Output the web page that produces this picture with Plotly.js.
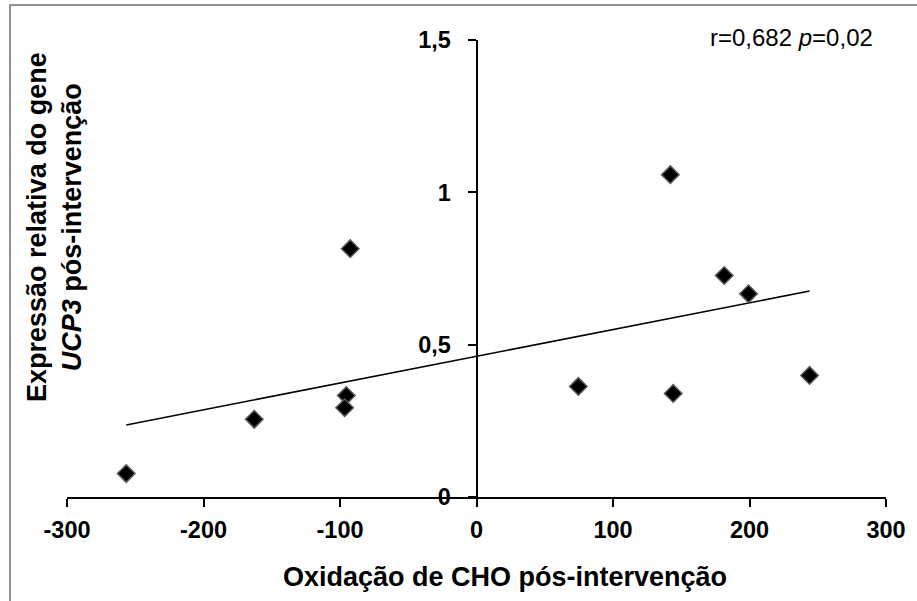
<!DOCTYPE html>
<html>
<head>
<meta charset="utf-8">
<script src="https://cdn.plot.ly/plotly-3.0.1.min.js"></script>
<style>
  html, body { margin: 0; padding: 0; background: #fff; overflow: hidden; }
  #wrap { position: relative; width: 917px; height: 601px; }
  #chart { width: 917px; height: 601px; }
  #frame {
    position: absolute; left: 9px; top: 4px; width: 1000px; height: 700px;
    border-left: 2px solid #8f8f8f; border-top: 2px solid #8f8f8f;
    pointer-events: none; box-sizing: border-box;
  }
</style>
</head>
<body>
<div id="wrap">
  <div id="chart"></div>
  <div id="frame"></div>
</div>
<script>
// CHO oxidation after the intervention vs relative UCP3 expression
const oxidacaoCHO = [-256.6, -162.8, -95.4, -96.6, -92.5, 74.6, 142.0, 144.1, 181.5, 199.3, 244.0];
const expressaoUCP3 = [0.077, 0.255, 0.333, 0.293, 0.815, 0.363, 1.058, 0.340, 0.727, 0.667, 0.399];

const xTickVals = [-300, -200, -100, 0, 100, 200, 300];
const xTickText = ['-300', '-200', '-100', '0', '100', '200', '300'];
const yTickVals = [0, 0.5, 1, 1.5];
const yTickText = ['0', '0,5', '1', '1,5'];

const statsLabel = 'r=0,682 <i>p</i>=0,02';
const xTitle = 'Oxidação de CHO pós-intervenção';
const yTitle = 'Expressão relativa do gene<br><i>UCP3</i> pós-intervenção';

// least-squares fit for the trend line
function linearFit(xs, ys) {
  const n = xs.length;
  const mx = xs.reduce((a, b) => a + b, 0) / n;
  const my = ys.reduce((a, b) => a + b, 0) / n;
  let sxy = 0, sxx = 0;
  for (let i = 0; i < n; i++) {
    sxy += (xs[i] - mx) * (ys[i] - my);
    sxx += (xs[i] - mx) * (xs[i] - mx);
  }
  const slope = sxy / sxx;
  return { slope, intercept: my - slope * mx };
}
const fit = linearFit(oxidacaoCHO, expressaoUCP3);
const xMin = Math.min(...oxidacaoCHO);
const xMax = Math.max(...oxidacaoCHO);
const trendX = [xMin, xMax];
const trendY = trendX.map(v => fit.intercept + fit.slope * v);

const FONT = 'Liberation Sans, Arial, Helvetica, sans-serif';

const traces = [
  {
    x: trendX, y: trendY, type: 'scatter', mode: 'lines',
    line: { color: '#000', width: 1.6 }, hoverinfo: 'skip', cliponaxis: false
  },
  {
    x: oxidacaoCHO, y: expressaoUCP3, type: 'scatter', mode: 'markers',
    marker: { symbol: 'diamond', size: 13.5, color: '#000', line: { color: '#5a5a5a', width: 1.5 } },
    cliponaxis: false
  }
];

const layout = {
  width: 917, height: 601,
  margin: { l: 67, r: 31, t: 40, b: 104 },
  paper_bgcolor: '#fff', plot_bgcolor: '#fff',
  showlegend: false,
  font: { family: FONT, color: '#000' },
  xaxis: {
    range: [-300, 300], domain: [0, 1],
    tickvals: xTickVals, ticktext: xTickText,
    ticks: 'outside', ticklen: 8, tickwidth: 2, tickcolor: '#000',
    ticklabelstandoff: 3,
    showline: true, linewidth: 2, linecolor: '#000',
    showgrid: false, zeroline: false,
    tickfont: { family: FONT, size: 23.5, weight: 'bold', color: '#000' },
    anchor: 'y', fixedrange: true
  },
  yaxis: {
    range: [0, 1.5],
    tickvals: yTickVals, ticktext: yTickText,
    ticks: 'outside', ticklen: 8, tickwidth: 2, tickcolor: '#000',
    ticklabelstandoff: 12,
    showline: true, linewidth: 2, linecolor: '#000',
    showgrid: false, zeroline: false,
    tickfont: { family: FONT, size: 23.5, weight: 'bold', color: '#000' },
    anchor: 'free', position: 0.5, fixedrange: true
  },
  annotations: [
    {
      text: statsLabel, xref: 'paper', yref: 'paper',
      x: (791 - 67) / 819, y: (497 - 37) / 457, xanchor: 'center', yanchor: 'middle',
      showarrow: false, font: { family: FONT, size: 24, color: '#000' }
    },
    {
      text: xTitle, xref: 'paper', yref: 'paper',
      x: (505 - 67) / 819, y: (497 - 577) / 457, xanchor: 'center', yanchor: 'middle',
      showarrow: false, font: { family: FONT, size: 27, weight: 'bold', color: '#000' }
    },
    {
      text: yTitle, xref: 'paper', yref: 'paper', textangle: -90,
      x: (54 - 67) / 819, y: (497 - 227) / 457, xanchor: 'center', yanchor: 'middle',
      showarrow: false, font: { family: FONT, size: 27, weight: 'bold', color: '#000' }
    }
  ]
};

Plotly.newPlot('chart', traces, layout, { displayModeBar: false, staticPlot: true });
</script>
</body>
</html>
